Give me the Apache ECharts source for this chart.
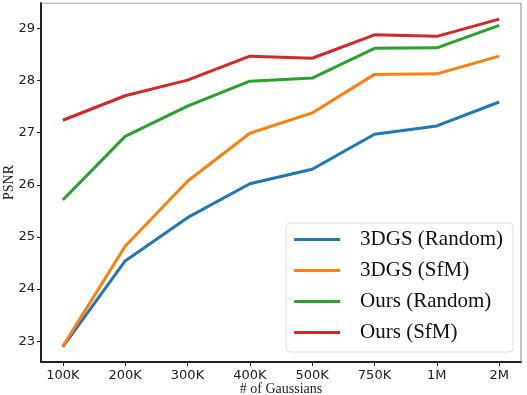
<!DOCTYPE html>
<html><head><meta charset="utf-8">
<script src="https://cdn.jsdelivr.net/npm/echarts@6/dist/echarts.min.js"></script>
<style>html,body{margin:0;padding:0;background:#fff}#c{width:527px;height:395px}</style>
</head><body><div id="c"></div>
<script>
var categories = ['100K','200K','300K','400K','500K','750K','1M','2M'];
var yTicks = [23,24,25,26,27,28,29];
var seriesNames = ['3DGS (Random)','3DGS (SfM)','Ours (Random)','Ours (SfM)'];
var dgsRandom = [22.89,24.54,25.37,26.02,26.30,26.97,27.13,27.59];
var dgsSfm = [22.90,24.82,26.07,26.99,27.38,28.12,28.13,28.47];
var oursRandom = [25.71,26.93,27.51,27.99,28.05,28.62,28.63,29.06];
var oursSfm = [27.24,27.71,28.01,28.47,28.43,28.88,28.85,29.18];
var colors = ['#1f77b4','#ff7f0e','#2ca02c','#d62728'];

var allData = [dgsRandom, dgsSfm, oursRandom, oursSfm];
var idx = categories.map(function(_, i){return i;});
var chart = echarts.init(document.getElementById('c'), null, {renderer:'canvas'});
var series = allData.map(function(arr, k){
  return {name: seriesNames[k], type:'line', showSymbol:false, symbol:'none',
    lineStyle:{width:3, color:colors[k]}, itemStyle:{color:colors[k]},
    data: arr.map(function(v,i){return [i,v];}), animation:false, z:2};
});
// frame top/right
series.push({type:'line', silent:true, symbol:'none', data:[[-0.35,29.49],[7.35,29.49],[7.35,22.6]],
  lineStyle:{width:1, color:'#888'}, animation:false, z:1, tooltip:{show:false}});
var option = {
  animation:false,
  grid:{left:41, top:3, right:6, bottom:33, containLabel:false, outerBoundsMode:'none'},
  legend:{
    data: seriesNames.map(function(n){return {name:n};}),
    orient:'vertical', right:14, bottom:43,
    icon:'rect', itemWidth:46, itemHeight:3, itemGap:10,
    padding:[6,10,9,8],
    backgroundColor:'#fff', borderColor:'#ddd', borderWidth:1, borderRadius:4,
    textStyle:{fontFamily:'Liberation Serif', fontSize:21, color:'#111', padding:[0,0,0,15]}
  },
  xAxis:{type:'value', min:-0.35, max:7.35,
    axisLine:{show:true, onZero:false, lineStyle:{color:'#222', width:2}},
    axisTick:{show:true, length:4, customValues: idx, lineStyle:{color:'#222'}},
    axisLabel:{customValues: idx, formatter:function(v){return categories[Math.round(v)];},
      fontFamily:'DejaVu Sans', fontSize:13, color:'#222', margin:7},
    splitLine:{show:false},
    name:'# of Gaussians', nameLocation:'middle', nameGap:20, nameMoveOverlap:false,
    nameTextStyle:{fontFamily:'Liberation Serif', fontSize:14, color:'#222'}
  },
  yAxis:{type:'value', min:22.6, max:29.49,
    axisLine:{show:true, onZero:false, lineStyle:{color:'#222', width:2}},
    axisTick:{show:true, length:4, customValues: yTicks, lineStyle:{color:'#222'}},
    axisLabel:{customValues: yTicks, fontFamily:'DejaVu Sans', fontSize:13, color:'#222', margin:6},
    splitLine:{show:false},
    name:'PSNR', nameLocation:'middle', nameGap:25, nameRotate:90, nameMoveOverlap:false,
    nameTextStyle:{fontFamily:'Liberation Serif', fontSize:14, color:'#222'}
  },
  series: series
};
chart.setOption(option);
</script></body></html>
